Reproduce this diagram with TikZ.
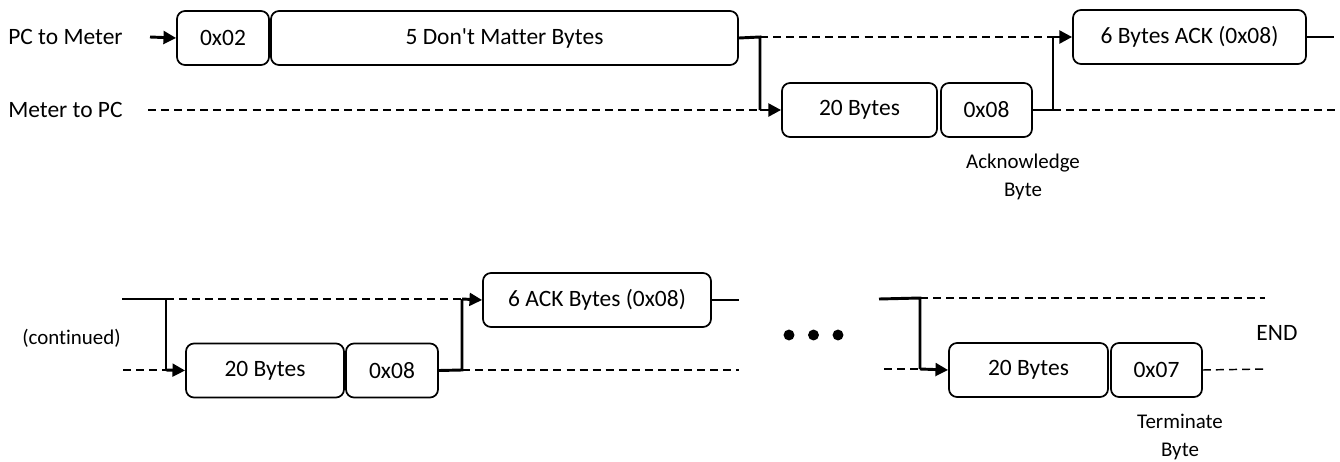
\documentclass[tikz,border=0pt]{standalone}
\usepackage{fontspec}
\setmainfont{Carlito}[Ligatures={TeXOff,CommonOff}]
\usetikzlibrary{arrows.meta}
\begin{document}
\begin{tikzpicture}[x=0.75pt,y=-0.75pt,
  box/.style={draw, line width=1.3pt, rounded corners=6pt, minimum height=40.5pt,
    inner sep=0pt, font=\fontsize{17.6}{21}\selectfont},
  lbl/.style={font=\fontsize{17.6}{21}\selectfont, inner sep=0pt},
  note/.style={font=\fontsize{15.7}{21}\selectfont, align=center, inner sep=0pt},
  flow/.style={line width=2.2pt, -{Triangle[length=9.5pt,width=9.5pt]}},
  wire/.style={line width=2.2pt},
  lane/.style={line width=1.1pt, dash pattern=on 6pt off 3.8pt},
  tail/.style={line width=1.2pt},
]
\useasboundingbox (0,0) rectangle (1340,461);

% ---------- first exchange ----------
\node[lbl, anchor=west] (pcm) at (8,37) {PC to Meter};
\node[lbl, anchor=west] (mpc) at (8,110) {Meter to PC};

\node[box, minimum width=69pt] (a) at (223,38) {0x02};
\node[box, minimum width=350.25pt] (b) at (504.5,38) {5 Don't Matter Bytes};
\node[box, minimum width=116.25pt] (c) at (859.5,110) {20 Bytes};
\node[box, minimum width=68.25pt] (d) at (986.5,110) {0x08};
\node[box, minimum width=174.75pt] (e) at (1189.5,37) {6 Bytes ACK (0x08)};
\node[note] (ack) at (1023,176.5) {Acknowledge\\Byte};

\coordinate (s0) at (150,37);
\coordinate (m0) at (148,110);
\coordinate (k1) at (760,37);
\coordinate (k2) at (760,110);
\coordinate (k3) at (1053,37);
\coordinate (k4) at (1053,110);
\coordinate (r1) at (1340,110);
\coordinate (r2) at (1334,37);

\draw[flow] (s0) -- (a.west);
\draw[lane] (m0) -- (k2);
\draw[lane] (k1) -- (k3);
\draw[wire] (b.east) -- (k1) -- (k2);
\draw[flow] (k2) -- (c.west);
\draw[wire] (d.east) -- (k4) -- (k3);
\draw[flow] (k3) -- (e.west);
\draw[lane] (k4) -- (r1);
\draw[tail] (e.east) -- (r2);

% ---------- continued exchange ----------
\node[note] (cont) at (71.5,338) {(continued)};

\node[box, minimum width=118.5pt] (f) at (265,370.5) {20 Bytes};
\node[box, minimum width=69pt] (g) at (392,370.5) {0x08};
\node[box, minimum width=171pt] (h) at (597,300) {6 ACK Bytes (0x08)};

\coordinate (p0) at (122,299);
\coordinate (p1) at (166,299);
\coordinate (p2) at (166,370);
\coordinate (p3) at (123,370);
\coordinate (p4) at (462,299);
\coordinate (p5) at (462,370);
\coordinate (p6) at (739,370);
\coordinate (p7) at (739,300);

\draw[wire] (p0) -- (p1) -- (p2);
\draw[flow] (p2) -- (f.west);
\draw[lane] (p3) -- (p2);
\draw[lane] (p1) -- (p4);
\draw[wire] (g.east) -- (p5) -- (p4);
\draw[flow] (p4) -- (h.west);
\draw[lane] (p5) -- (p6);
\draw[tail] (h.east) -- (p7);

% ellipsis
\fill (789,335) circle (4.1pt);
\fill (813.5,335) circle (4.1pt);
\fill (838,335) circle (4.1pt);

% ---------- final exchange ----------
\node[box, minimum width=119.25pt] (i) at (1028.5,370) {20 Bytes};
\node[box, minimum width=68.25pt] (j) at (1156.5,370) {0x07};
\node[lbl] (end) at (1277,333) {END};
\node[note] (term) at (1180,437) {Terminate\\Byte};

\coordinate (q0) at (879,299);
\coordinate (q1) at (920,298);
\coordinate (q2) at (920,369);
\coordinate (q3) at (884,369);
\coordinate (q4) at (1265,298);
\coordinate (q5) at (1265,369);

\draw[wire] (q0) -- (q1) -- (q2);
\draw[flow] (q2) -- (i.west);
\draw[lane] (q3) -- (q2);
\draw[lane] (q1) -- (q4);
\draw[lane] (j.east) -- (q5);
\end{tikzpicture}
\end{document}
